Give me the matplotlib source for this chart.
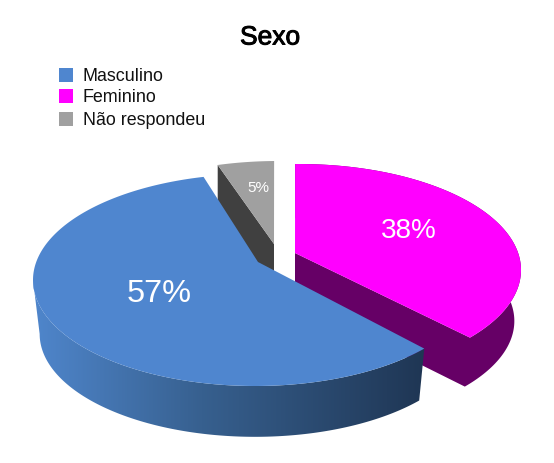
import numpy as np
import matplotlib
matplotlib.use('Agg')
import matplotlib.pyplot as plt
import matplotlib.patheffects as pe
from matplotlib.colors import LinearSegmentedColormap
from matplotlib.patches import Polygon, Rectangle

plt.rcParams['font.family'] = ['Liberation Sans', 'DejaVu Sans']

titulo = 'Sexo'
categorias = ['Masculino', 'Feminino', 'Não respondeu']
valores = [57, 38, 5]
cores = ['#4F86CF', '#FF00FF', '#A0A0A0']


def arco(c, t0, t1, esc=1.0, dy=0, n=120):
    t = np.radians(np.linspace(t0, t1, n))
    return np.column_stack((c[0] + 222 * esc * np.cos(t), c[1] + dy - 106 * esc * np.sin(t)))


fig = plt.figure(figsize=(5.54, 4.63), dpi=100)
ax = fig.add_axes([0, 0, 1, 1])

# abertura de cada fatia na elipse (a perspectiva estica ou encolhe um pouco)
ab_azul = valores[0] * 3.6 * 1.054
ab_mag = valores[1] * 3.6 * 0.955
ab_cinza = valores[2] * 3.6 * 0.82

# cinza
c_cinza = (278, 267)
topo = arco(c_cinza, 91, 91 + ab_cinza, n=30)
vert = np.array([274, 244])
ax.add_patch(Polygon([topo[-1], vert, vert + [0, 50], topo[-1] + [0, 45]], fc='#404040', ec='none', zorder=1))
ax.add_patch(Polygon(np.vstack((vert, topo)), fc=cores[2], ec='none', zorder=2))

# magenta, lateral e parede num poligono so
c_mag = (299, 270)
t0 = 91 - ab_mag
topo = arco(c_mag, t0, 91)
base = arco(c_mag, t0, 91, 0.97, 51)
vert = np.array([295, 253])
ax.add_patch(Polygon(np.vstack((vert, vert + [0, 49], base, topo[::-1])), fc='#660066', ec='none', zorder=3))
ax.add_patch(Polygon(np.vstack((vert, topo)), fc=cores[1], ec='none', zorder=4))

# azul, a lateral escurece para a direita (so a parte da frente, de 180 graus em diante)
c_azul = (255, 280)
t0 = 103.4
t1 = t0 + ab_azul
topo = arco(c_azul, t0, t1, n=200)
frente = arco(c_azul, 180, t1, n=200)
base = arco(c_azul, 180, t1, 0.97, 54, n=200)
grad = LinearSegmentedColormap.from_list('lat', [(0, '#4F86CC'), (0.43, '#37608F'), (1, '#1F3654')])
lado = Polygon(np.vstack((frente, base[::-1])), fc='none', ec='none', zorder=5)
ax.add_patch(lado)
im = ax.imshow(np.linspace(0, 1, 256).reshape(1, -1), cmap=grad, extent=(33, 425, 463, 0),
               aspect='auto', interpolation='bilinear', zorder=5)
im.set_clip_path(lado)
ax.add_patch(Polygon(np.vstack(([258, 262], topo)), fc=cores[0], ec='none', zorder=6))

ax.set_xlim(0, 554)
ax.set_ylim(463, 0)
ax.axis('off')

# textos
ax.text(270, 37.5, titulo, fontsize=19, ha='center', va='center', color='black',
        path_effects=[pe.withStroke(linewidth=0.7, foreground='black')])
pos_y = [75, 96, 119]
for nome, cor, y in zip(categorias, cores, pos_y):
    ax.add_patch(Rectangle((59, y - 7), 14, 14, fc=cor, ec='none'))
    ax.text(83, y + 1.5, nome, fontsize=12.9, ha='left', va='center', color='#111111')

ax.text(159, 294, f'{valores[0]}%', color='white', fontsize=23.4, ha='center', va='center', zorder=10)
ax.text(408.5, 231, f'{valores[1]}%', color='white', fontsize=20, ha='center', va='center', zorder=10)
ax.text(258, 187.5, f'{valores[2]}%', color='white', fontsize=11, ha='center', va='center', zorder=10)

fig.savefig('out.png', dpi=100)
